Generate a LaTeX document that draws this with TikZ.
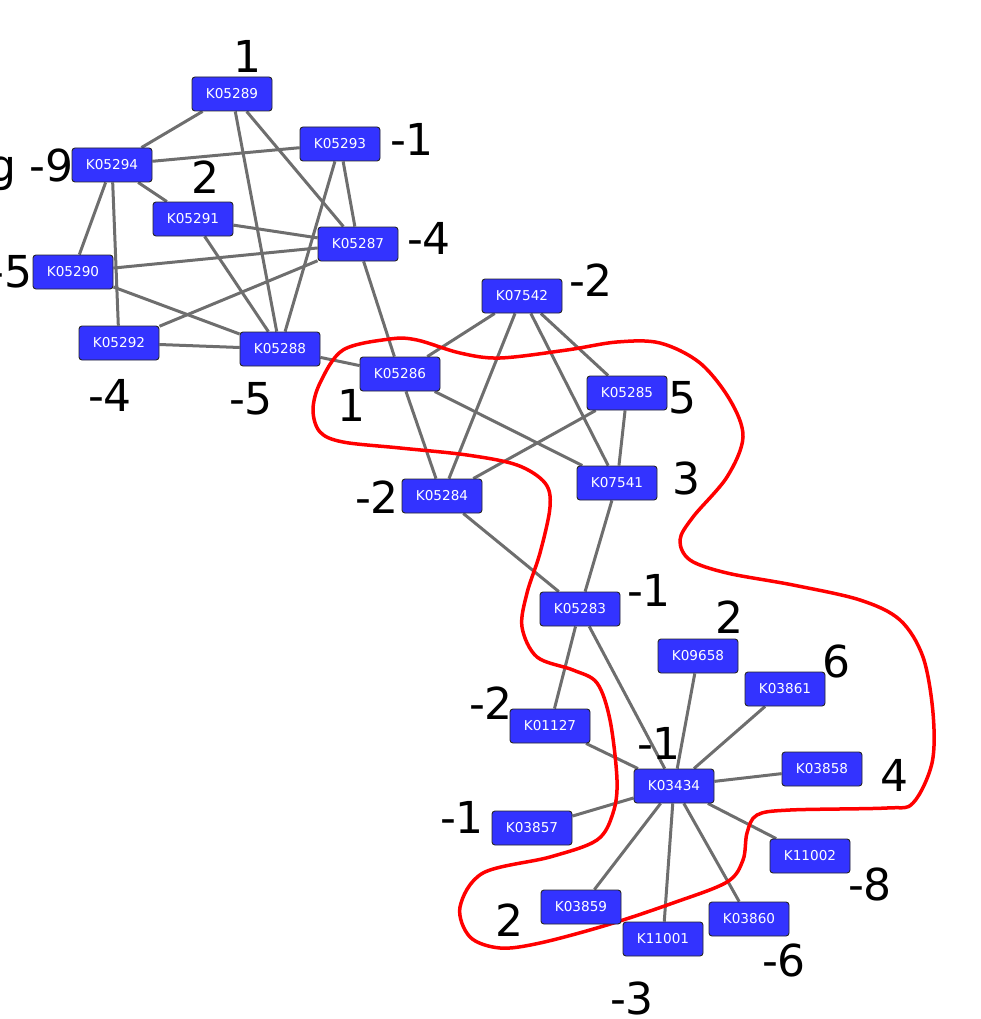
\documentclass[tikz,border=0pt]{standalone}
\usepackage{fontspec}
\setmainfont{DejaVu Sans}
\usetikzlibrary{backgrounds}
\definecolor{kblue}{RGB}{51,51,255}
\definecolor{linkgrey}{RGB}{110,110,110}
\tikzset{
  ko/.style={draw=black!85,line width=0.9pt,fill=kblue,rounded corners=3pt,
    minimum width=80pt,minimum height=34pt,inner sep=0pt,text=white,
    font=\fontsize{13.6}{15}\selectfont},
  num/.style={inner sep=0pt,font=\fontsize{44}{50}\selectfont},
  link/.style={draw=linkgrey,line width=3pt},
}
\begin{document}
\begin{tikzpicture}[x=1pt,y=-1pt]
      \useasboundingbox (0,0) rectangle (981,1019);
      % first group
      \node[ko] (k05289) at (232,94)  {K05289};
      \node[ko] (k05293) at (340,144) {K05293};
      \node[ko] (k05294) at (112,165) {K05294};
      \node[ko] (k05291) at (193,219) {K05291};
      \node[ko] (k05287) at (358,244) {K05287};
      \node[ko] (k05290) at (73,272)  {K05290};
      \node[ko] (k05292) at (119,343) {K05292};
      \node[ko] (k05288) at (280,349) {K05288};
      % second group
      \node[ko] (k05286) at (400,374) {K05286};
      \node[ko] (k07542) at (522,296) {K07542};
      \node[ko] (k05285) at (627,393) {K05285};
      \node[ko] (k07541) at (617,483) {K07541};
      \node[ko] (k05284) at (442,496) {K05284};
      \node[ko] (k05283) at (580,609) {K05283};
      % third group
      \node[ko] (k09658) at (698,656) {K09658};
      \node[ko] (k03861) at (785,689) {K03861};
      \node[ko] (k01127) at (550,726) {K01127};
      \node[ko] (k03434) at (674,786) {K03434};
      \node[ko] (k03858) at (822,769) {K03858};
      \node[ko] (k03857) at (532,828) {K03857};
      \node[ko] (k11002) at (810,856) {K11002};
      \node[ko] (k03859) at (581,907) {K03859};
      \node[ko] (k03860) at (749,919) {K03860};
      \node[ko] (k11001) at (663,939) {K11001};
      % scores
      \node[num] (n05289) at (247,56)  {1};
      \node[num] (n05293) at (412,139) {-1};
      \node[num,anchor=base east] (n05294) at (74,182) {g -9};
      \node[num] (n05291) at (205,177) {2};
      \node[num] (n05287) at (429,238) {-4};
      \node[num,anchor=east] (n05290) at (33,272) {-5};
      \node[num] (n05292) at (110,395) {-4};
      \node[num] (n05288) at (251,399) {-5};
      \node[num] (n05286) at (351,405) {1};
      \node[num] (n07542) at (591,280) {-2};
      \node[num] (n05285) at (682,398) {5};
      \node[num] (n07541) at (686,478) {3};
      \node[num] (n05284) at (377,497) {-2};
      \node[num] (n05283) at (649,590) {-1};
      \node[num] (n09658) at (729,617) {2};
      \node[num] (n03861) at (836,661) {6};
      \node[num] (n01127) at (491,703) {-2};
      \node[num] (n03434) at (659,743) {-1};
      \node[num] (n03858) at (894,775) {4};
      \node[num] (n03857) at (462,817) {-1};
      \node[num] (n11002) at (870,884) {-8};
      \node[num] (n03859) at (509,920) {2};
      \node[num] (n03860) at (784,960) {-6};
      \node[num] (n11001) at (632,998) {-3};
      \begin{pgfonlayer}{background}
        \foreach \a/\b in {k05289/k05294,k05289/k05288,k05289/k05287,
            k05294/k05293,k05294/k05291,k05294/k05290,k05294/k05292,
            k05293/k05288,k05293/k05287,k05291/k05287,k05291/k05288,
            k05290/k05287,k05290/k05288,k05292/k05287,k05292/k05288,
            k05288/k05286,k05287/k05286,
            k07542/k05286,k07542/k05284,k07542/k07541,k07542/k05285,
            k05286/k05284,k05286/k07541,k05285/k05284,k05285/k07541,
            k05284/k05283,k07541/k05283,
            k05283/k01127,k05283/k03434,k01127/k03434,
            k03434/k09658,k03434/k03861,k03434/k03858,k03434/k11002,
            k03434/k03860,k03434/k11001,k03434/k03859,k03434/k03857}
          \draw[link] (\a) -- (\b);
        % selected region
        \draw[red,line width=3.5pt] plot[smooth cycle,tension=0.55] coordinates {
          (390,339) (343,350) (320,383) (313,410) (320,432) (343,442) (400,448)
          (467,455) (517,465) (545,483) (550,507) (540,553) (527,593) (522,627)
          (537,657) (573,670) (597,683) (610,720) (617,780) (613,813) (597,840)
          (550,857) (483,873) (460,907) (470,937) (500,948) (540,943) (607,925)
          (673,903) (727,882) (743,860) (747,833) (757,815) (790,810) (887,808)
          (913,803) (932,763) (933,713) (923,657) (900,620) (860,600) (793,585)
          (727,573) (690,560) (680,540) (693,517) (727,477) (743,437) (730,400)
          (700,363) (660,343) (617,342) (567,350) (500,358) (460,353) (417,340)};
      \end{pgfonlayer}
    \end{tikzpicture}
\end{document}
